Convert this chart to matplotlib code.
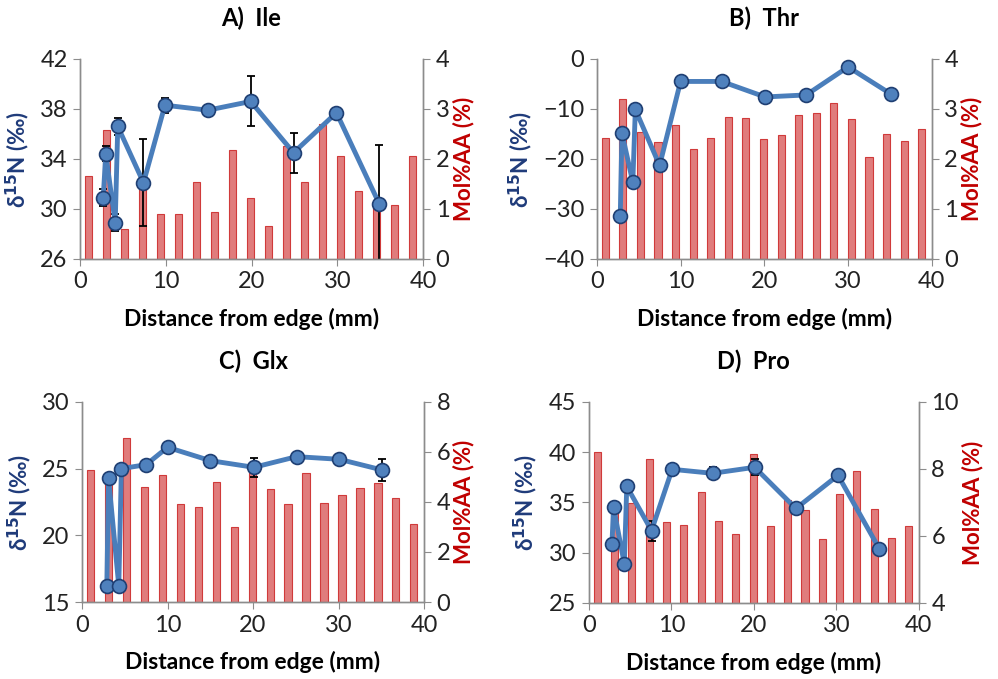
import matplotlib.pyplot as plt

plt.rcParams['font.family'] = ['Lato', 'DejaVu Sans']

# bar positions (mm) shared by all panels
bar_x = [1.0, 3.1, 5.2, 7.3, 9.4, 11.5, 13.6, 15.7, 17.8, 19.9,
         22.0, 24.1, 26.2, 28.3, 30.4, 32.5, 34.6, 36.7, 38.8]

# Mol%AA bars
ile_mol = [1.65, 2.58, 0.60, 1.58, 0.89, 0.89, 1.54, 0.93, 2.18, 1.22,
           0.66, 2.26, 1.54, 2.70, 2.06, 1.36, 1.05, 1.08, 2.06]
thr_mol = [2.41, 3.20, 2.54, 2.33, 2.67, 2.19, 2.42, 2.84, 2.82, 2.39,
           2.47, 2.87, 2.92, 3.12, 2.80, 2.04, 2.50, 2.35, 2.59]
glx_mol = [5.27, 4.90, 6.54, 4.58, 5.07, 3.92, 3.81, 4.80, 3.00, 5.20,
           4.52, 3.92, 5.15, 3.96, 4.27, 4.55, 4.74, 4.17, 3.10]
pro_mol = [8.50, 6.80, 6.99, 8.30, 6.43, 6.33, 7.30, 6.45, 6.06, 8.46,
           6.29, 7.08, 6.76, 5.91, 7.26, 7.94, 6.81, 5.95, 6.31]

# d15N points
ile_x = [2.7, 3.0, 4.1, 4.4, 7.4, 9.9, 14.9, 19.9, 24.9, 29.9, 34.9]
ile_d = [30.9, 34.4, 28.9, 36.6, 32.1, 38.3, 37.9, 38.6, 34.5, 37.7, 30.4]
ile_err = [0.7, 0.6, 0.7, 0.7, 3.5, 0.6, 0.1, 2.0, 1.6, 0.3, 4.7]

thr_x = [2.8, 3.0, 4.3, 4.6, 7.5, 10.0, 14.9, 20.1, 25.0, 30.0, 35.1]
thr_d = [-31.4, -14.8, -24.7, -10.1, -21.3, -4.5, -4.5, -7.6, -7.2, -1.6, -7.0]
thr_err = [0.3, 0.3, 0.3, 0.3, 0.3, 0.8, 0.3, 1.0, 0.3, 0.5, 0.3]

glx_x = [2.9, 3.1, 4.3, 4.6, 7.5, 10.0, 15.0, 20.1, 25.1, 30.1, 35.1]
glx_d = [16.2, 24.3, 16.2, 25.0, 25.3, 26.6, 25.6, 25.1, 25.9, 25.7, 24.9]
glx_err = [0.1, 0.1, 0.1, 0.1, 0.1, 0.1, 0.1, 0.7, 0.3, 0.2, 0.8]

pro_x = [2.8, 3.0, 4.3, 4.6, 7.6, 10.1, 15.0, 20.1, 25.1, 30.2, 35.2]
pro_d = [30.9, 34.5, 28.9, 36.6, 32.2, 38.3, 37.9, 38.5, 34.4, 37.7, 30.4]
pro_err = [0.2, 0.2, 0.2, 0.2, 1.0, 0.2, 0.6, 0.8, 0.2, 0.5, 0.2]

panels = [
    ("A)  Ile", ile_x, ile_d, ile_err, ile_mol, (26, 42), [26, 30, 34, 38, 42], (0, 4), [0, 1, 2, 3, 4],
     [0.0802, 0.6186, 0.3437, 0.2946]),
    ("B)  Thr", thr_x, thr_d, thr_err, thr_mol, (-40, 0), [-40, -30, -20, -10, 0], (0, 4), [0, 1, 2, 3, 4],
     [0.598, 0.6186, 0.3357, 0.2946]),
    ("C)  Glx", glx_x, glx_d, glx_err, glx_mol, (15, 30), [15, 20, 25, 30], (0, 8), [0, 2, 4, 6, 8],
     [0.0822, 0.1134, 0.3427, 0.2946]),
    ("D)  Pro", pro_x, pro_d, pro_err, pro_mol, (25, 45), [25, 30, 35, 40, 45], (4, 10), [4, 6, 8, 10],
     [0.590, 0.112, 0.3307, 0.296]),
]

fig = plt.figure(figsize=(9.98, 6.79), dpi=100)
spine_c = '#8c8c8c'

for title, px, pd_, perr, mol, ylim, yt, y2lim, y2t, rect in panels:
    ax = fig.add_axes(rect)
    ax2 = ax.twinx()
    # bars on secondary axis, behind the line
    ax.set_zorder(ax2.get_zorder() + 1)
    ax.patch.set_visible(False)
    ax2.bar(bar_x, mol, width=0.85, color='#E07C7C', edgecolor='#D03A3A', linewidth=0.8)
    ax2.set_ylim(*y2lim)
    ax2.set_yticks(y2t)

    ax.errorbar(px, pd_, yerr=perr, fmt='none', ecolor='black', elinewidth=1.3, capsize=3, capthick=1.3, zorder=2)
    ax.plot(px, pd_, '-o', color='#4A7EBB', lw=3.5, ms=10, mfc='#4F81BD', mec='#1F3F73', mew=1.2, zorder=3)
    ax.set_ylim(*ylim)
    ax.set_yticks(yt)
    ax.set_xlim(0, 40)
    ax.set_xticks([0, 10, 20, 30, 40])

    for a in (ax, ax2):
        a.spines['top'].set_visible(False)
        for s in ('left', 'right', 'bottom'):
            a.spines[s].set_color(spine_c)
            a.spines[s].set_linewidth(1.0)
        a.tick_params(axis='both', direction='out', length=5, color=spine_c, labelsize=17, labelcolor='#222222', pad=4)

    ax.set_title(title, fontsize=17, fontweight='bold', pad=24)
    ax.set_xlabel('Distance from edge (mm)', fontsize=16.5, fontweight='bold', labelpad=11)
    ax.set_ylabel(r'δ$^{\mathbf{15}}$N (‰)', fontsize=16, fontweight='bold', color='#1F3B7A', labelpad=6)
    ax2.set_ylabel('Mol%AA (%)', fontsize=16, fontweight='bold', color='#C00000', labelpad=2)

fig.savefig('out.png', dpi=100)
